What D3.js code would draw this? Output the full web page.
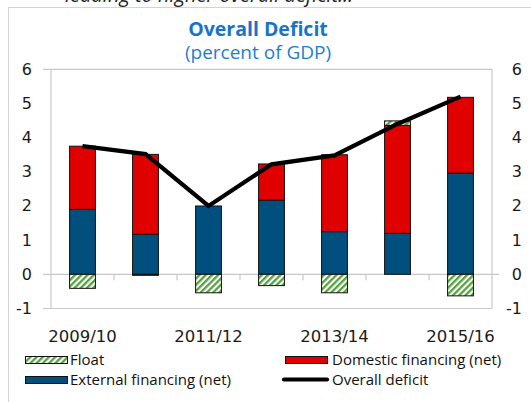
<!DOCTYPE html>
<html>
  <head>
    <script src="https://d3js.org/d3.v7.min.js"></script>
    <style>
      body { margin: 0; background: #fff; }
      svg { display: block; }
    </style>
  </head>
  <body>
    <script>
      // values (percent of GDP)
      var years = ["2009/10", "2010/11", "2011/12", "2012/13", "2013/14", "2014/15", "2015/16"];
      var external = [1.9, 1.17, 2.0, 2.17, 1.25, 1.2, 2.96];
      var domestic = [1.85, 2.34, 0.0, 1.06, 2.25, 3.16, 2.22];
      var float = [-0.41, -0.03, -0.54, -0.33, -0.54, 0.13, -0.63];
      var deficit = [3.75, 3.52, 2.0, 3.22, 3.48, 4.4, 5.2];
      var yTicks = [-1, 0, 1, 2, 3, 4, 5, 6];
      var xLabels = ["2009/10", "2011/12", "2013/14", "2015/16"];

      var W = 531, H = 402;
      var plotL = 51, plotR = 492, plotT = 69.3, plotB = 308.5;

      var svg = d3.select("body").append("svg")
        .attr("width", W)
        .attr("height", H);

      var defs = svg.append("defs");
      var pat = defs.append("pattern")
        .attr("id", "hatch")
        .attr("patternUnits", "userSpaceOnUse")
        .attr("width", 4.4)
        .attr("height", 4.4)
        .attr("patternTransform", "rotate(45)");
      pat.append("rect").attr("width", 4.4).attr("height", 4.4).attr("fill", "#fff");
      pat.append("rect").attr("width", 2.3).attr("height", 4.4).attr("fill", "#55a23f");

      // the text above the chart, cut at the top
      svg.append("text")
        .attr("x", 65)
        .attr("y", 2)
        .attr("font-family", "Open Sans")
        .attr("font-style", "italic")
        .attr("font-size", "20px")
        .attr("fill", "#222")
        .text("leading to higher overall deficit...");

      // outer frame
      svg.append("rect")
        .attr("x", 8.5).attr("y", 7.5)
        .attr("width", 540).attr("height", 420)
        .attr("fill", "none")
        .attr("stroke", "#d4d4d4");

      svg.append("text")
        .attr("x", 258).attr("y", 35.5)
        .attr("text-anchor", "middle")
        .attr("font-family", "Open Sans")
        .attr("font-weight", "bold")
        .attr("font-size", "19.5px")
        .attr("fill", "#1874c8")
        .text("Overall Deficit");

      svg.append("text")
        .attr("x", 258).attr("y", 59)
        .attr("text-anchor", "middle")
        .attr("font-family", "Open Sans")
        .attr("font-size", "19px")
        .attr("fill", "#1d7fd0")
        .text("(percent of GDP)");

      var x = d3.scaleBand()
        .domain(years)
        .range([plotL, plotR])
        .paddingInner(0.59)
        .paddingOuter(0.295);
      var step = x.step();

      var y = d3.scaleLinear()
        .domain([-1, 6])
        .range([plotB, plotT]);

      // plot frame
      var grid = svg.append("g").attr("stroke", "#c8c8c8").attr("stroke-width", 1.2);
      grid.append("line").attr("x1", 43).attr("x2", plotR).attr("y1", y(6)).attr("y2", y(6));
      grid.append("line").attr("x1", 43).attr("x2", plotR).attr("y1", y(-1)).attr("y2", y(-1));
      grid.append("line").attr("x1", plotL).attr("x2", plotL).attr("y1", y(6)).attr("y2", y(-1));
      grid.append("line").attr("x1", plotR).attr("x2", plotR).attr("y1", y(6)).attr("y2", y(-1));
      grid.append("line").attr("x1", 43).attr("x2", 499).attr("y1", y(0)).attr("y2", y(0));
      grid.selectAll(".tk")
        .data(years.slice(1))
        .enter().append("line")
        .attr("x1", function(d) { return x(d) + x.bandwidth() / 2 - step / 2; })
        .attr("x2", function(d) { return x(d) + x.bandwidth() / 2 - step / 2; })
        .attr("y1", y(0))
        .attr("y2", y(0) + 6);

      // y tick labels both sides
      var tickFont = "DejaVu Sans";
      svg.append("g").selectAll("text")
        .data(yTicks)
        .enter().append("text")
        .attr("x", 32)
        .attr("y", function(d) { return y(d) + 5.5; })
        .attr("text-anchor", "end")
        .attr("font-family", tickFont)
        .attr("font-size", "16px")
        .attr("fill", "#1a1a1a")
        .text(function(d) { return d; });
      svg.append("g").selectAll("text")
        .data(yTicks)
        .enter().append("text")
        .attr("x", 522)
        .attr("y", function(d) { return y(d) + 5.5; })
        .attr("text-anchor", "end")
        .attr("font-family", tickFont)
        .attr("font-size", "16px")
        .attr("fill", "#1a1a1a")
        .text(function(d) { return d; });

      svg.append("g").selectAll("text")
        .data(xLabels)
        .enter().append("text")
        .attr("x", function(d) { return x(d) + x.bandwidth() / 2; })
        .attr("y", 342)
        .attr("text-anchor", "middle")
        .attr("font-family", tickFont)
        .attr("font-size", "16.5px")
        .attr("fill", "#1a1a1a")
        .text(function(d) { return d; });

      // stacked bars
      var rows = years.map(function(yr, i) {
        return { year: yr, external: external[i], domestic: domestic[i], float: float[i] };
      });
      var keys = ["external", "domestic", "float"];
      var fills = { external: "#004f7c", domestic: "#e00000", float: "url(#hatch)" };
      var series = d3.stack().keys(keys).offset(d3.stackOffsetDiverging)(rows);

      svg.append("g").selectAll("g")
        .data(series)
        .enter().append("g")
        .attr("fill", function(d) { return fills[d.key]; })
        .selectAll("rect")
        .data(function(d) { return d.filter(function(p) { return p[1] - p[0] !== 0; }); })
        .enter().append("rect")
        .attr("x", function(d) { return x(d.data.year); })
        .attr("width", x.bandwidth())
        .attr("y", function(d) { return y(Math.max(d[0], d[1])); })
        .attr("height", function(d) { return Math.abs(y(d[0]) - y(d[1])); })
        .attr("stroke", "#111")
        .attr("stroke-width", 1);

      // overall deficit line
      var line = d3.line()
        .x(function(d, i) { return x(years[i]) + x.bandwidth() / 2; })
        .y(function(d) { return y(d); });
      svg.append("path")
        .datum(deficit)
        .attr("d", line)
        .attr("fill", "none")
        .attr("stroke", "#000")
        .attr("stroke-width", 4.2);

      // legend
      var lg = svg.append("g").attr("font-family", "Open Sans").attr("font-size", "15px").attr("fill", "#111");
      lg.append("rect").attr("x", 25.5).attr("y", 356.5).attr("width", 42).attr("height", 7)
        .attr("fill", "url(#hatch)").attr("stroke", "#111");
      lg.append("text").attr("x", 70).attr("y", 365).text("Float");
      lg.append("rect").attr("x", 285.5).attr("y", 356.5).attr("width", 42).attr("height", 7)
        .attr("fill", fills.domestic).attr("stroke", "#111");
      lg.append("text").attr("x", 332).attr("y", 365).text("Domestic financing (net)");
      lg.append("rect").attr("x", 25.5).attr("y", 376.5).attr("width", 42).attr("height", 7)
        .attr("fill", fills.external).attr("stroke", "#111");
      lg.append("text").attr("x", 70).attr("y", 385).text("External financing (net)");
      lg.append("line").attr("x1", 284).attr("x2", 327).attr("y1", 379.5).attr("y2", 379.5)
        .attr("stroke", "#000").attr("stroke-width", 4.2).attr("stroke-linecap", "round");
      lg.append("text").attr("x", 332).attr("y", 385).text("Overall deficit");
    </script>
  </body>
</html>
